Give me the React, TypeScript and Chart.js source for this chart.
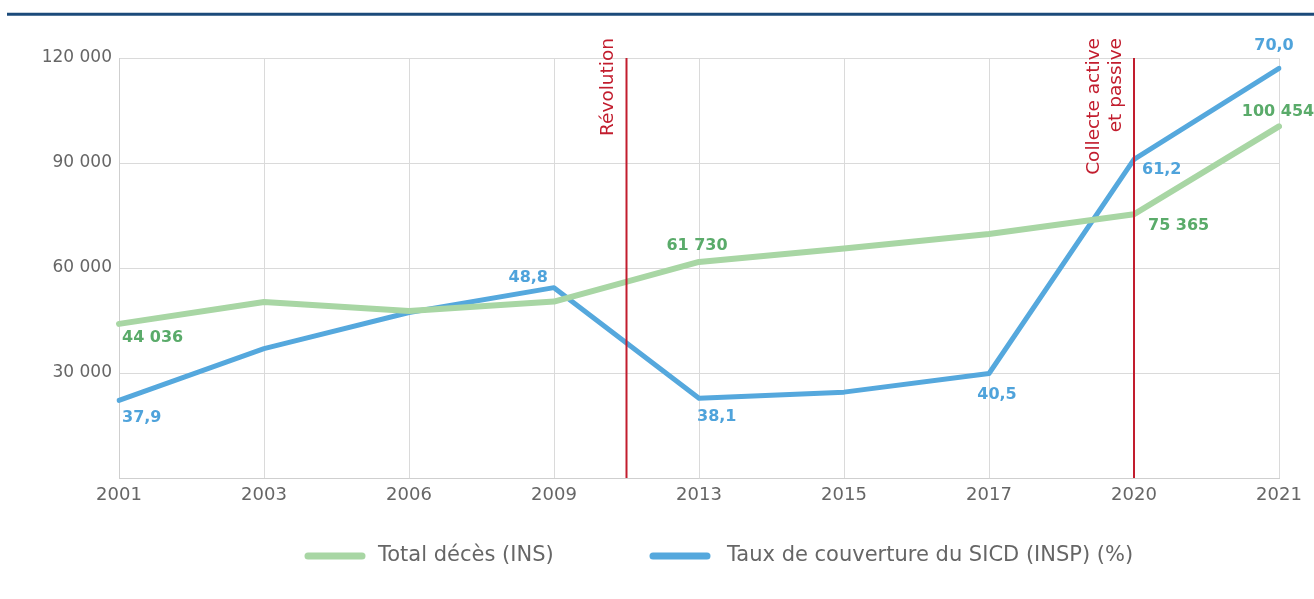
import React, { useEffect, useRef } from "react";
import { Chart, registerables } from "chart.js";

Chart.register(...registerables);

const categories = ["2001", "2003", "2006", "2009", "2013", "2015", "2017", "2020", "2021"];
const totalDeces = [44036, 50300, 47700, 50400, 61730, 65600, 69700, 75365, 100454];
const tauxCouverture = [37.9, 42.9, 46.4, 48.8, 38.1, 38.7, 40.5, 61.2, 70.0];
const yTicks = [30000, 60000, 90000, 120000];
const labeledDeces = [0, 4, 7, 8];
const labeledTaux = [0, 3, 4, 6, 7, 8];
const seriesNames = ["Total décès (INS)", "Taux de couverture du SICD (INSP) (%)"];
const events = [
  { at: 3.5, lines: ["Révolution"] },
  { at: 7, lines: ["Collecte active", "et passive"] },
];

// label placement (style)
const decesLabelPos: Record<number, [number, number, CanvasTextAlign]> = {
  0: [3, 14, "left"],
  4: [-2, -16, "center"],
  7: [14, 12, "left"],
  8: [-1, -15, "center"],
};
const tauxLabelPos: Record<number, [number, number, CanvasTextAlign]> = {
  0: [3, 17, "left"],
  3: [-6, -10, "right"],
  4: [-2, 18, "left"],
  6: [8, 21, "center"],
  7: [8, 10, "left"],
  8: [-5, -23, "center"],
};

const FONT = "'DejaVu Sans', sans-serif";
const GREEN_LINE = "#a8d6a4";
const GREEN_TEXT = "#5aab6a";
const BLUE_LINE = "#55a8dd";
const BLUE_TEXT = "#4fa3db";
const RED = "#c21d2e";

function fmtInt(v: number) {
  return String(Math.round(v)).replace(/\B(?=(\d{3})+(?!\d))/g, " ");
}
function fmtDec(v: number) {
  return v.toFixed(1).replace(".", ",");
}

const overlayPlugin = {
  id: "overlay",
  beforeDraw(chart: any) {
    const ctx = chart.ctx;
    ctx.save();
    ctx.strokeStyle = "#1b4a7a";
    ctx.lineWidth = 3;
    ctx.beginPath();
    ctx.moveTo(7, 14.3);
    ctx.lineTo(chart.width, 14.3);
    ctx.stroke();
    ctx.restore();
  },
  afterDatasetsDraw(chart: any) {
    const ctx = chart.ctx;
    const x = chart.scales.x;
    const area = chart.chartArea;
    ctx.save();
    // event lines
    events.forEach((ev) => {
      const px = x.getPixelForValue(ev.at);
      ctx.strokeStyle = RED;
      ctx.lineWidth = 2;
      ctx.beginPath();
      ctx.moveTo(px, area.top);
      ctx.lineTo(px, area.bottom);
      ctx.stroke();
      ctx.save();
      ctx.translate(px, 38);
      ctx.rotate(-Math.PI / 2);
      ctx.fillStyle = RED;
      ctx.font = `18.5px ${FONT}`;
      ctx.textAlign = "right";
      ctx.textBaseline = "middle";
      const n = ev.lines.length;
      ev.lines.forEach((t, i) => {
        const off = n === 1 ? -18 : -(n - i) * 22 + 4;
        ctx.fillText(t, 0, off);
      });
      ctx.restore();
    });
    // data labels
    ctx.font = `bold 16px ${FONT}`;
    ctx.textBaseline = "middle";
    const m0 = chart.getDatasetMeta(0);
    labeledDeces.forEach((i) => {
      const p = m0.data[i];
      const [dx, dy, al] = decesLabelPos[i];
      ctx.fillStyle = GREEN_TEXT;
      ctx.textAlign = al;
      ctx.fillText(fmtInt(totalDeces[i]), p.x + dx, p.y + dy);
    });
    const m1 = chart.getDatasetMeta(1);
    labeledTaux.forEach((i) => {
      const p = m1.data[i];
      const [dx, dy, al] = tauxLabelPos[i];
      ctx.fillStyle = BLUE_TEXT;
      ctx.textAlign = al;
      ctx.fillText(fmtDec(tauxCouverture[i]), p.x + dx, p.y + dy);
    });
    // legend
    const items = [
      { x: 305, tx: 378, color: GREEN_LINE, text: seriesNames[0] },
      { x: 650, tx: 727, color: BLUE_LINE, text: seriesNames[1] },
    ];
    const ly = 556;
    items.forEach((it) => {
      ctx.strokeStyle = it.color;
      ctx.lineWidth = 7;
      ctx.lineCap = "round";
      ctx.beginPath();
      ctx.moveTo(it.x + 3, ly);
      ctx.lineTo(it.x + 57, ly);
      ctx.stroke();
      ctx.fillStyle = "#666666";
      ctx.font = `21px ${FONT}`;
      ctx.textAlign = "left";
      ctx.textBaseline = "middle";
      ctx.fillText(it.text, it.tx, ly);
    });
    ctx.restore();
  },
};

export default function App() {
  const ref = useRef<HTMLCanvasElement>(null);
  useEffect(() => {
    if (!ref.current) return;
    const chart = new Chart(ref.current, {
      type: "line",
      data: {
        labels: categories,
        datasets: [
          {
            label: seriesNames[0],
            data: totalDeces,
            borderColor: GREEN_LINE,
            borderWidth: 6,
            pointRadius: 0,
            tension: 0,
            borderJoinStyle: "round",
            borderCapStyle: "round",
            yAxisID: "y",
          },
          {
            label: seriesNames[1],
            data: tauxCouverture,
            borderColor: BLUE_LINE,
            borderWidth: 5,
            pointRadius: 0,
            tension: 0,
            borderJoinStyle: "round",
            borderCapStyle: "round",
            yAxisID: "y1",
          },
        ],
      },
      options: {
        responsive: false,
        animation: false,
        layout: { padding: { left: 0, right: 35, top: 58, bottom: 81 } },
        plugins: { legend: { display: false }, tooltip: { enabled: false } },
        scales: {
          x: {
            grid: { color: "#dadada", drawTicks: false },
            border: { color: "#cfcfcf" },
            ticks: { color: "#666666", font: { family: FONT, size: 18 }, padding: 7, maxRotation: 0 },
            afterFit: (s: any) => {
              s.height = 40;
            },
          },
          y: {
            min: 0,
            max: 120000,
            grid: { color: "#dadada", drawTicks: false },
            border: { color: "#cfcfcf" },
            afterBuildTicks: (s: any) => {
              s.ticks = [0, ...yTicks].map((v) => ({ value: v }));
            },
            ticks: {
              color: "#666666",
              font: { family: FONT, size: 17 },
              padding: 7,
              callback: (v: any) => (v === 0 ? "" : fmtInt(Number(v))),
            },
            afterFit: (s: any) => {
              s.width = 119;
            },
          },
          y1: {
            display: false,
            min: 30.4,
            max: 71,
            position: "right",
          },
        },
      },
      plugins: [overlayPlugin],
    });
    return () => chart.destroy();
  }, []);
  return (
    <div style={{ position: "absolute", left: 0, top: 0, width: 1314, height: 599 }}>
      <canvas ref={ref} width={1314} height={599} style={{ display: "block" }} />
    </div>
  );
}
